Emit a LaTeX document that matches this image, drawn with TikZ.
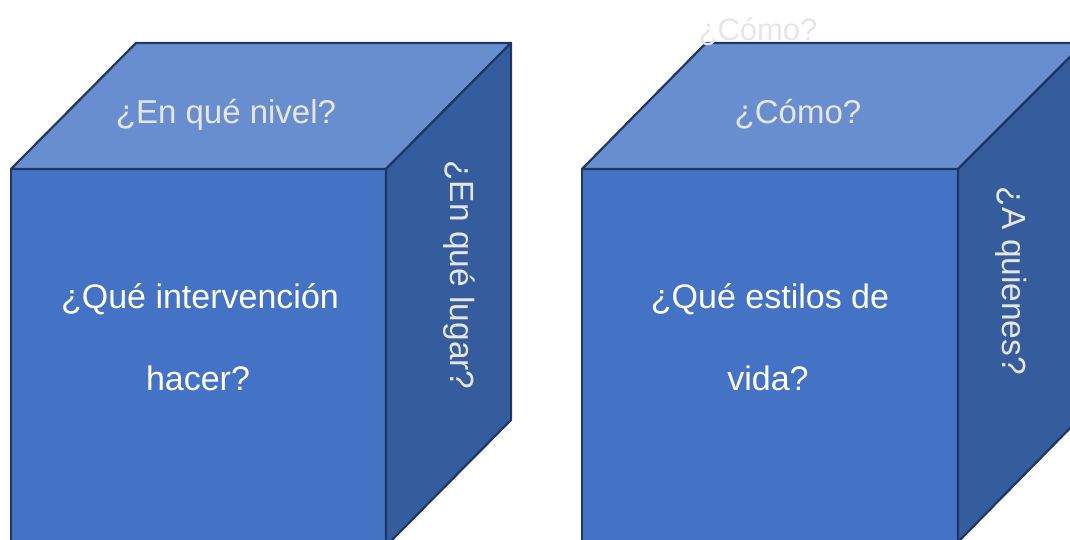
\documentclass[tikz,border=0pt]{standalone}
\usepackage{fontspec}
\setmainfont{Liberation Sans}
\definecolor{frontc}{HTML}{4472C4}
\definecolor{topc}{HTML}{698ED0}
\definecolor{sidec}{HTML}{355C9C}
\definecolor{edgec}{HTML}{1F3763}
\definecolor{txtw}{HTML}{FFFFFF}
\definecolor{txtg}{HTML}{E7E6E6}
\begin{document}
\begin{tikzpicture}[x=1pt,y=-1pt,
  face/.style={draw=edgec,line width=2.2pt,line join=round},
  fronttxt/.style={anchor=base,text=txtw,font=\fontsize{34}{40}\selectfont,inner sep=0pt},
  toptxt/.style={anchor=base,text=txtg,font=\fontsize{33}{40}\selectfont,inner sep=0pt},
  sidetxt/.style={anchor=base,rotate=-90,text=txtg,font=\fontsize{33.5}{40}\selectfont,inner sep=0pt}]
\useasboundingbox (0,0) rectangle (1070,540);
\clip (0,0) rectangle (1070,540);
% left cube
\fill[frontc,face] (11,169) rectangle (386,546);
\fill[topc,face] (11,169) -- (136,43) -- (511,43) -- (386,169) -- cycle;
\fill[sidec,face] (386,169) -- (511,43) -- (511,420) -- (386,546) -- cycle;
% right cube
\fill[frontc,face] (582,169) rectangle (958,546);
\fill[topc,face] (582,169) -- (706,43) -- (1084,43) -- (958,169) -- cycle;
\fill[sidec,face] (958,169) -- (1084,43) -- (1084,414) -- (958,542) -- cycle;
% texts
\node[fronttxt] (q1a) at (200,308) {¿Qué intervención};
\node[fronttxt] (q1b) at (198,390) {hacer?};
\node[toptxt] (t1) at (226,124) {¿En qué nivel?};
\node[sidetxt] (s1) at (450,275) {¿En qué lugar?};
\node[fronttxt] (q2a) at (770,308) {¿Qué estilos de};
\node[fronttxt] (q2b) at (768,390) {vida?};
\node[toptxt] (t2) at (798,124) {¿Cómo?};
\node[sidetxt] (s2) at (1002,281) {¿A quienes?};
\node[anchor=base,text=txtg,font=\fontsize{31}{38}\selectfont,inner sep=0pt] (stray) at (758,41) {¿Cómo?};
\end{tikzpicture}
\end{document}
